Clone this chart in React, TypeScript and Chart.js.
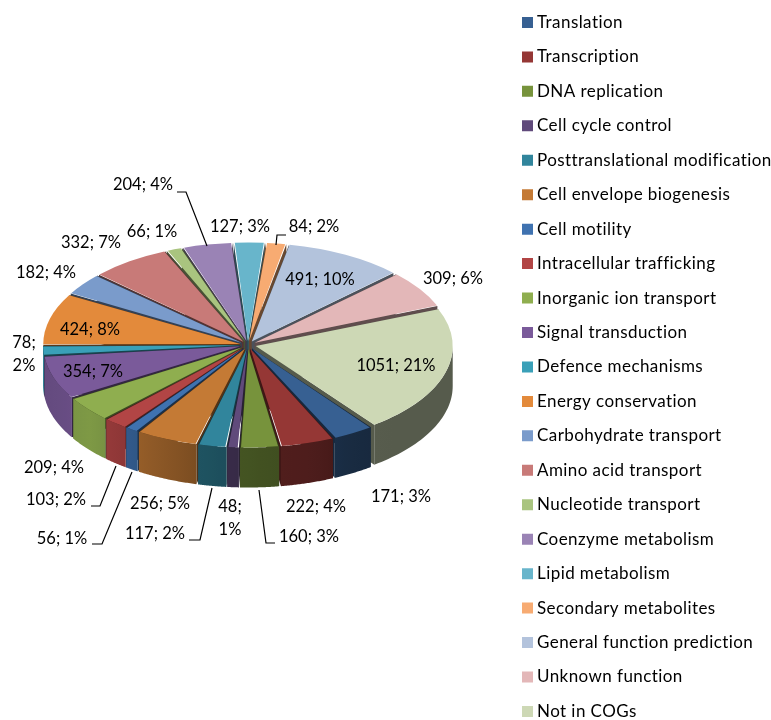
import React, { useEffect, useRef } from "react";
import { Chart, registerables } from "chart.js";

Chart.register(...registerables);

const categories = [
  "Translation", "Transcription", "DNA replication", "Cell cycle control",
  "Posttranslational modification", "Cell envelope biogenesis", "Cell motility",
  "Intracellular trafficking", "Inorganic ion transport", "Signal transduction",
  "Defence mechanisms", "Energy conservation", "Carbohydrate transport",
  "Amino acid transport", "Nucleotide transport", "Coenzyme metabolism",
  "Lipid metabolism", "Secondary metabolites", "General function prediction",
  "Unknown function", "Not in COGs",
];
const counts = [171, 222, 160, 48, 117, 256, 56, 103, 209, 354, 78, 424, 182, 332, 66, 204, 127, 84, 491, 309, 1051];
const colors = [
  "#376092", "#953735", "#77933C", "#604A7B", "#31859C", "#C47A35", "#3F72B0",
  "#B24545", "#8FAE4F", "#7A5A9A", "#3AA0B8", "#E38A3B", "#7A9BCB", "#C87A78",
  "#A9C47F", "#9A83B5", "#68B5CB", "#F7AB72", "#B3C3DC", "#E3B7B8", "#CDD8B5",
];
// text centres for the data labels: [x, y] per line
const labelPlaces: number[][] = [
  [401, 497], [316, 507], [309, 537], [230, 507], [155, 534], [160, 504], [62, 539],
  [56, 500], [54, 468], [93, 372], [24, 343], [90, 330], [46, 273], [91, 243],
  [152, 232], [143, 185], [240, 227], [314, 227], [320, 280], [453, 279], [396, 366],
];
const wrappedLabels = [3, 10];
const leaders: number[][][] = [
  [[259, 490], [266, 543], [275, 543]],
  [[212, 488], [200, 540], [189, 540]],
  [[132, 472], [102, 544], [92, 544]],
  [[116, 466], [100, 506], [91, 506]],
  [[177, 192], [186, 192], [207, 246]],
  [[276, 245], [277, 235], [286, 235]],
];

const FONT = "Lato";
const FONT_SIZE = 16.5;
const CX = 248, CY = 345, K = 0.5, DEPTH = 40, OFFSET = 32;
const ROT = 143;

const wallFactor = (x: number) => {
  const stops = [[43, 0.82], [90, 0.88], [130, 0.78], [200, 0.62], [260, 0.55], [310, 0.52], [350, 0.45], [380, 0.42], [453, 0.42]];
  if (x <= stops[0][0]) return stops[0][1];
  for (let i = 1; i < stops.length; i++) {
    if (x <= stops[i][0]) {
      const t = (x - stops[i - 1][0]) / (stops[i][0] - stops[i - 1][0]);
      return stops[i - 1][1] + t * (stops[i][1] - stops[i - 1][1]);
    }
  }
  return stops[stops.length - 1][1];
};
const shade = (hex: string, f: number) => {
  const n = parseInt(hex.slice(1), 16);
  return `rgb(${Math.round((n >> 16) * f)},${Math.round(((n >> 8) & 255) * f)},${Math.round((n & 255) * f)})`;
};

const pie3d = {
  id: "pie3d",
  beforeLayout(chart: any) {
    const legend = chart.legend;
    if (legend && !legend._patched) {
      legend._patched = true;
      const fit = legend.fit;
      legend.fit = function () {
        this.maxHeight = 900;
        fit.call(this);
        this.width = 261.95;
        this.height = 720;
      };
    }
  },
  afterLayout(chart: any) {
    chart.legend.top = -3.5;
    chart.legend.bottom = 900;
  },
  afterDatasetUpdate(chart: any) {
    const meta = chart.getDatasetMeta(0);
    meta.data.forEach((arc: any) => {
      const c = arc.endAngle - arc.startAngle;
      arc.outerRadius -= (OFFSET / 4) * (1 - Math.sin(Math.min(Math.PI, c)));
    });
  },
  beforeDraw(chart: any) {
    chart.ctx.letterSpacing = "0.43px";
  },
  beforeDatasetsDraw(chart: any) {
    const ctx = chart.ctx;
    ctx.letterSpacing = "0px";
    const arcs: any[] = chart.getDatasetMeta(0).data;
    const R = (arcs[20].outerRadius + (OFFSET / 4) * (1 - Math.sin(Math.min(Math.PI, arcs[20].endAngle - arcs[20].startAngle))));
    const pt = (arc: any, a: number, r: number) => {
      const mid = (arc.startAngle + arc.endAngle) / 2;
      return [
        CX + (OFFSET / 4) * Math.cos(mid) + r * Math.cos(a),
        CY + K * ((OFFSET / 4) * Math.sin(mid) + r * Math.sin(a)),
      ];
    };
    const order = arcs.map((_, i) => i).sort((a, b) =>
      Math.sin((arcs[a].startAngle + arcs[a].endAngle) / 2) - Math.sin((arcs[b].startAngle + arcs[b].endAngle) / 2));
    order.forEach((i) => {
      const arc = arcs[i];
      const col = colors[i];
      const [ax, ay] = pt(arc, 0, 0);
      [arc.startAngle, arc.endAngle].forEach((a: number) => {
        const [bx, by] = pt(arc, a, R);
        ctx.beginPath();
        ctx.moveTo(ax, ay);
        ctx.lineTo(bx, by);
        ctx.lineTo(bx, by + DEPTH);
        ctx.lineTo(ax, ay + DEPTH);
        ctx.closePath();
        ctx.fillStyle = shade(col, 0.42);
        ctx.fill();
      });
      for (const base of [-2 * Math.PI, 0, 2 * Math.PI]) {
        const s = Math.max(arc.startAngle, base);
        const e = Math.min(arc.endAngle, base + Math.PI);
        if (e <= s) continue;
        const n = 40;
        const top: number[][] = [];
        for (let j = 0; j <= n; j++) top.push(pt(arc, s + ((e - s) * j) / n, R));
        const xs = top.map((p) => p[0]);
        const x0 = Math.min(...xs), x1 = Math.max(...xs);
        const g = ctx.createLinearGradient(x0, 0, Math.max(x1, x0 + 1), 0);
        for (let j = 0; j <= 4; j++) g.addColorStop(j / 4, shade(col, wallFactor(x0 + ((x1 - x0) * j) / 4)));
        ctx.beginPath();
        top.forEach((p, j) => (j ? ctx.lineTo(p[0], p[1]) : ctx.moveTo(p[0], p[1])));
        for (let j = n; j >= 0; j--) ctx.lineTo(top[j][0], top[j][1] + DEPTH);
        ctx.closePath();
        ctx.fillStyle = g;
        ctx.fill();
      }
    });
    ctx.save();
    ctx.translate(CX, CY);
    ctx.scale(1, K);
    ctx.translate(-arcs[0].x, -arcs[0].y);
  },
  afterDatasetsDraw(chart: any) {
    const ctx = chart.ctx;
    ctx.restore();
    ctx.save();
    ctx.strokeStyle = "#000";
    ctx.lineWidth = 1.2;
    leaders.forEach((line) => {
      ctx.beginPath();
      line.forEach((p, j) => (j ? ctx.lineTo(p[0], p[1]) : ctx.moveTo(p[0], p[1])));
      ctx.stroke();
    });
    ctx.fillStyle = "#000";
    ctx.font = `${FONT_SIZE}px ${FONT}`;
    ctx.textAlign = "center";
    ctx.textBaseline = "middle";
    const total = counts.reduce((a, b) => a + b, 0);
    counts.forEach((v, i) => {
      const pct = Math.round((v / total) * 100);
      const [x, y] = labelPlaces[i];
      if (wrappedLabels.includes(i)) {
        ctx.fillText(`${v};`, x, y);
        ctx.fillText(`${pct}%`, x, y + 23);
      } else {
        ctx.fillText(`${v}; ${pct}%`, x, y);
      }
    });
    ctx.restore();
  },
};

export default function App() {
  const ref = useRef<HTMLCanvasElement>(null);
  useEffect(() => {
    const chart = new Chart(ref.current as HTMLCanvasElement, {
      type: "pie",
      data: {
        labels: categories,
        datasets: [{ data: counts, backgroundColor: colors, borderWidth: 0, offset: OFFSET, clip: false } as any],
      },
      options: {
        responsive: false,
        animation: false,
        rotation: ROT,
        layout: { padding: { left: 83.05 } },
        plugins: {
          tooltip: { enabled: false },
          legend: {
            position: "right",
            align: "start",
            onClick: () => {},
            labels: {
              boxWidth: 2,
              boxHeight: 2,
              padding: 17.45,
              color: "#000",
              font: { family: FONT, size: 17 },
              generateLabels: (c: any) =>
                (Chart as any).overrides.doughnut.plugins.legend.labels.generateLabels(c).map((it: any) => ({
                  ...it, lineWidth: 9, strokeStyle: it.fillStyle,
                })),
            },
          },
        },
      } as any,
      plugins: [pie3d as any],
    });
    return () => chart.destroy();
  }, []);
  return <canvas ref={ref} width={771} height={720} style={{ position: "fixed", left: 0, top: 0 }} />;
}
